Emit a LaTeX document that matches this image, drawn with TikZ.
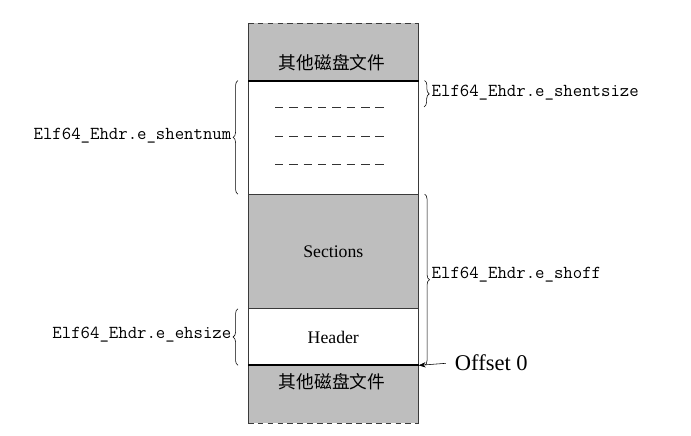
\documentclass[tikz,border=0pt]{standalone}
\usepackage{fontspec}
\setmainfont{Liberation Serif}
\newfontfamily\cjkfont{Noto Sans CJK SC}
\usetikzlibrary{arrows.meta, positioning, calc, decorations.pathreplacing}
\definecolor{diskgray}{HTML}{BEBEBE}
\definecolor{edgegray}{HTML}{3A3A3A}

\begin{document}
\begin{tikzpicture}[
  x=0.025cm, y=-0.025cm,
  blk/.style={rectangle, inner sep=0pt, minimum width=4.25cm,
    font=\fontsize{12.6}{15}\selectfont},
  fieldlbl/.style={font=\fontsize{13}{15}\selectfont\ttfamily, inner sep=1pt},
  cjktxt/.style={font=\fontsize{12.6}{15}\selectfont\cjkfont},
  brace/.style={decorate, decoration={brace, amplitude=3.5pt}, thin, black},
  divider/.style={line width=1.4pt, black},
  rowdash/.style={thin, black!80, dash pattern=on 6pt off 4.2pt}
]
  \useasboundingbox (0,0) rectangle (691,435);

  % the file, top to bottom
  \node[blk, fill=diskgray, minimum height=1.425cm, anchor=north west] (other1) at (248,23) {};
  \node[blk, minimum height=2.825cm, below=0pt of other1] (table) {};
  \node[blk, fill=diskgray, minimum height=2.85cm, below=0pt of table] (sec) {Sections};
  \node[blk, minimum height=1.4cm, below=0pt of sec] (hdr) {Header};
  \node[blk, fill=diskgray, minimum height=1.425cm, below=0pt of hdr] (other2) {};

  \node[cjktxt] (other1txt) at (332,63) {其他磁盘文件};
  \node[cjktxt] (other2txt) at (332,382) {其他磁盘文件};

  \draw[edgegray] (other1.north west) -- (other2.south west);
  \draw[edgegray] (other1.north east) -- (other2.south east);
  \draw[edgegray, dash pattern=on 4pt off 3pt] (other1.north west) -- (other1.north east);
  \draw[edgegray, dash pattern=on 4pt off 3pt] (other2.south west) -- (other2.south east);
  \draw[divider] (other1.south west) -- (other1.south east);
  \draw[edgegray] (table.south west) -- (table.south east);
  \draw[edgegray] (sec.south west) -- (sec.south east);
  \draw[divider] (hdr.south west) -- (hdr.south east);

  \foreach \y in {107,136,164}
    \draw[rowdash] (275,\y) -- (387,\y);

  % sizes
  \coordinate (entryend) at (418,107);
  \draw[brace] ([xshift=0.15cm]table.north east) -- ([xshift=0.15cm]entryend);
  \node[fieldlbl, anchor=west] (shentsize) at (430,93) {Elf64\_Ehdr.e\_shentsize};
  \draw[brace] ([xshift=0.15cm]sec.north east) -- ([xshift=0.15cm]hdr.south east);
  \node[fieldlbl, anchor=west] (shoff) at (430,275) {Elf64\_Ehdr.e\_shoff};
  \draw[brace] ([xshift=-0.25cm]table.south west) -- ([xshift=-0.25cm]table.north west);
  \node[fieldlbl, anchor=east] (shentnum) at (233,136) {Elf64\_Ehdr.e\_shentnum};
  \draw[brace] ([xshift=-0.25cm]hdr.south west) -- ([xshift=-0.25cm]hdr.north west);
  \node[fieldlbl, anchor=east] (ehsize) at (233,335) {Elf64\_Ehdr.e\_ehsize};

  \node[font=\fontsize{16}{18}\selectfont, anchor=west] (offset) at (450,363) {Offset 0};
  \draw[-{Stealth[length=5pt]}, shorten <=3pt] (offset.west) -- (hdr.south east);
\end{tikzpicture}
\end{document}
